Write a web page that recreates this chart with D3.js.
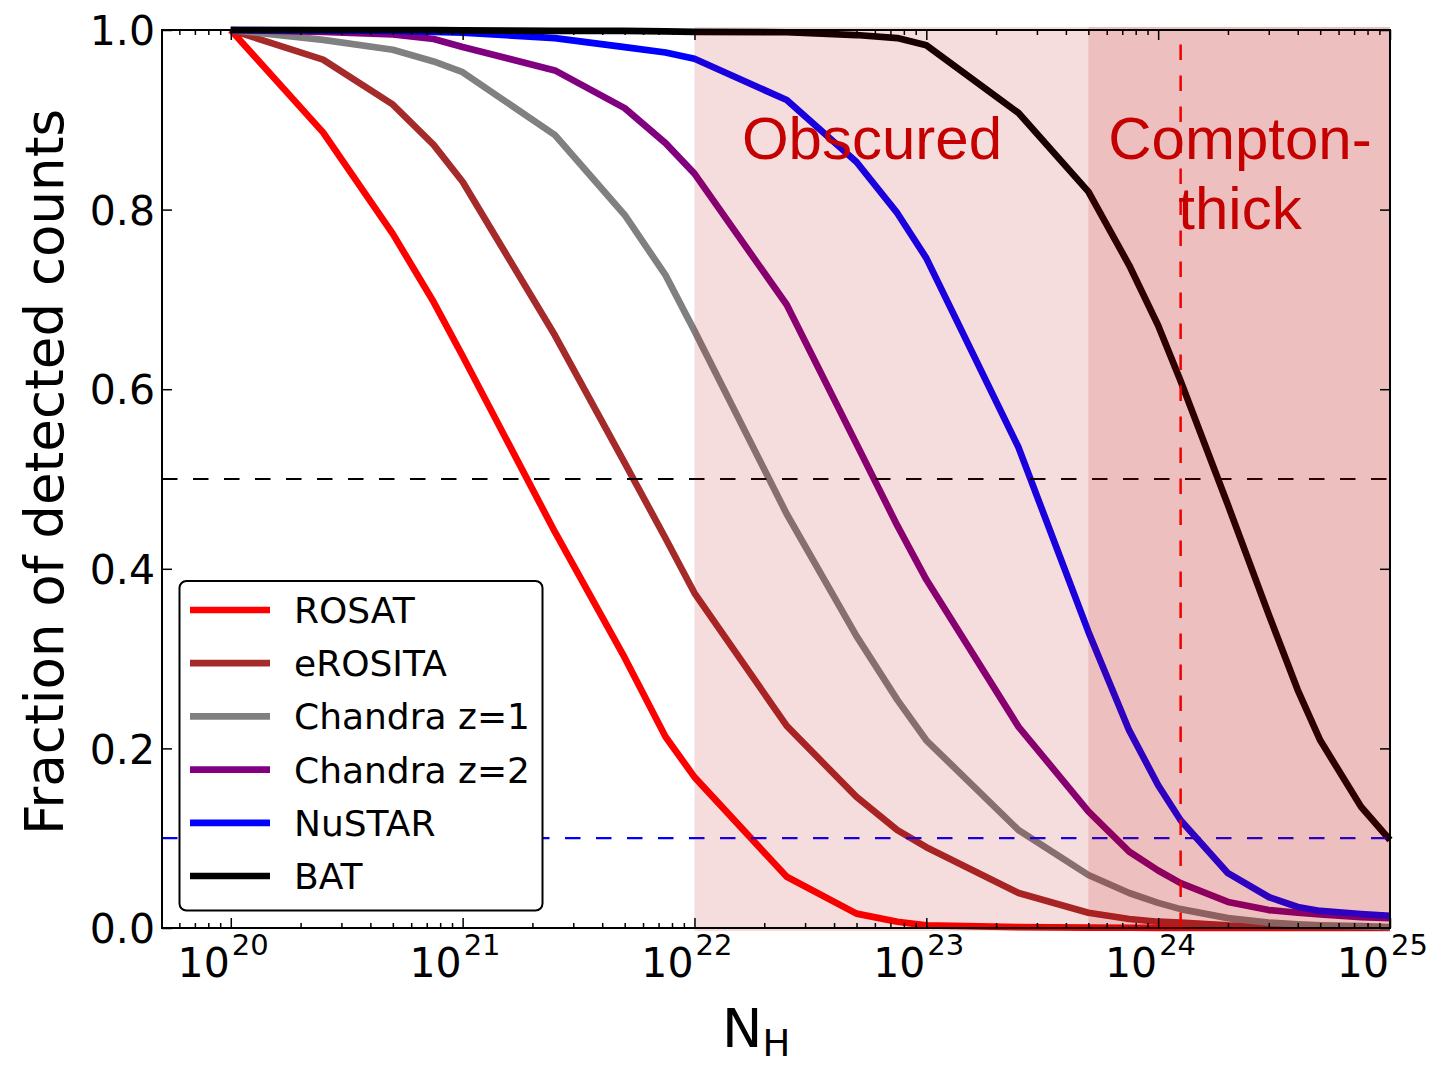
<!DOCTYPE html>
<html><head><meta charset="utf-8">
<script src="https://cdn.jsdelivr.net/npm/d3@7"></script>
<style>body{margin:0;background:#fff}</style>
</head><body><svg id="c" width="1435" height="1068"></svg>
<script>
// ---- data ----
const NH = [1e20, 2.5e20, 5e20, 7.5e20, 1e21, 2.5e21, 5e21, 7.5e21, 1e22, 2.5e22, 5e22, 7.5e22,
            1e23, 2.5e23, 5e23, 7.5e23, 1e24, 1.25e24, 2e24, 3e24, 4e24, 5e24, 7.5e24, 1e25];
const SERIES = ["ROSAT", "eROSITA", "Chandra z=1", "Chandra z=2", "NuSTAR", "BAT"];
const ROSAT    = [1.0, 0.886, 0.773, 0.697, 0.637, 0.441, 0.301, 0.213, 0.168, 0.057, 0.016, 0.007,
                  0.003, 0.001, 0.0005, 0.0003, 0.0002, 0.0001, 0, 0, 0, 0, 0, 0];
const EROSITA  = [1.0, 0.967, 0.917, 0.872, 0.831, 0.660, 0.518, 0.434, 0.373, 0.225, 0.146, 0.109,
                  0.090, 0.039, 0.017, 0.010, 0.007, 0.006, 0.003, 0.002, 0.001, 0.001, 0.0005, 0.0003];
const CHANDRA1 = [1.0, 0.989, 0.978, 0.965, 0.953, 0.883, 0.794, 0.727, 0.665, 0.461, 0.325, 0.254,
                  0.209, 0.109, 0.059, 0.039, 0.028, 0.021, 0.011, 0.006, 0.004, 0.003, 0.002, 0.001];
const CHANDRA2 = [1.0, 0.998, 0.995, 0.990, 0.981, 0.955, 0.913, 0.874, 0.840, 0.694, 0.539, 0.448,
                  0.388, 0.224, 0.130, 0.085, 0.064, 0.050, 0.029, 0.020, 0.017, 0.015, 0.012, 0.011];
const NUSTAR   = [1.0, 0.9995, 0.999, 0.998, 0.997, 0.991, 0.981, 0.975, 0.968, 0.922, 0.853, 0.796,
                  0.746, 0.535, 0.330, 0.220, 0.159, 0.120, 0.061, 0.0345, 0.0234, 0.019, 0.0156, 0.0134];
const BAT      = [1.0, 1.0, 1.0, 1.0, 0.9995, 0.999, 0.999, 0.9985, 0.998, 0.9975, 0.9944, 0.991,
                  0.983, 0.9075, 0.820, 0.738, 0.671, 0.609, 0.471, 0.349, 0.265, 0.209, 0.135, 0.098];
const VALUES = [ROSAT, EROSITA, CHANDRA1, CHANDRA2, NUSTAR, BAT];
const Y_TICKS = [0, 0.2, 0.4, 0.6, 0.8, 1.0];
const X_TICK_EXP = [20, 21, 22, 23, 24, 25];
const X_DOMAIN = [5.05e19, 1e25];
const OBSCURED_MIN = 1e22, CT_MIN = 5e23, CT_LINE = 1.25e24;
const HLINE_VALUES = [0.5, 0.1];

// ---- styles ----
const COLORS = ["#ff0000", "#a52a2a", "#808080", "#800080", "#0000ff", "#000000"];
const HLINE_COLORS = ["#000000", "#0000ff"];
const L = 162, R = 1390, T = 30, B = 928;

const svg = d3.select("#c");
const x = d3.scaleLog().domain(X_DOMAIN).range([L, R]);
const y = d3.scaleLinear().domain([0, 1]).range([B, T]);

const line = d3.line().x(d => x(d[0])).y(d => y(d[1]));
const gLines = svg.append("g");
VALUES.forEach((vals, i) => {
  gLines.append("path")
    .attr("d", line(NH.map((n, j) => [n, vals[j]])))
    .attr("fill", "none").attr("stroke", COLORS[i])
    .attr("stroke-width", 6.7).attr("stroke-linejoin", "round");
});

// dashed reference lines
HLINE_VALUES.forEach((v, i) => {
  svg.append("line").attr("x1", L).attr("x2", R).attr("y1", y(v)).attr("y2", y(v))
    .attr("stroke", HLINE_COLORS[i]).attr("stroke-width", 2.2)
    .attr("stroke-dasharray", "15.5,15.5");
});
svg.append("line").attr("x1", x(CT_LINE)).attr("x2", x(CT_LINE))
  .attr("y1", y(0)).attr("y2", y(1))
  .attr("stroke", "#ff0000").attr("stroke-width", 2.5)
  .attr("stroke-dasharray", "15.5,15.5");

// shaded regions
[OBSCURED_MIN, CT_MIN].forEach(v => {
  svg.append("rect").attr("x", x(v)).attr("y", T - 3)
    .attr("width", R - x(v)).attr("height", B - T + 6)
    .attr("fill", "#bb0000").attr("fill-opacity", 0.133);
});

// annotations
const ann = svg.append("g").attr("font-family", "'Liberation Sans', Arial, sans-serif")
  .attr("font-size", 60).attr("fill", "#c40000").attr("text-anchor", "middle");
ann.append("text").attr("x", 872).attr("y", 159).text("Obscured");
ann.append("text").attr("x", 1240).attr("y", 159).text("Compton-");
ann.append("text").attr("x", 1240).attr("y", 229).text("thick");

// axes
const minors = x.ticks().filter(v => Math.abs(Math.log10(v) - Math.round(Math.log10(v))) > 1e-6);
const majors = X_TICK_EXP.map(e => Math.pow(10, e));
function styleAxis(g) {
  g.select(".domain").remove();
  g.selectAll(".tick line").attr("stroke", "#000").attr("stroke-width", 1.5);
}
svg.append("g").attr("transform", `translate(0,${B})`)
  .call(d3.axisBottom(x).tickValues(majors).tickSize(-10).tickFormat("")).call(styleAxis);
svg.append("g").attr("transform", `translate(0,${B})`)
  .call(d3.axisBottom(x).tickValues(minors).tickSize(-5).tickFormat("")).call(styleAxis);
svg.append("g").attr("transform", `translate(0,${T})`)
  .call(d3.axisTop(x).tickValues(majors).tickSize(-10).tickFormat("")).call(styleAxis);
svg.append("g").attr("transform", `translate(0,${T})`)
  .call(d3.axisTop(x).tickValues(minors).tickSize(-5).tickFormat("")).call(styleAxis);

const yl = svg.append("g").attr("transform", `translate(${L},0)`)
  .call(d3.axisLeft(y).tickValues(Y_TICKS).tickSize(-10).tickPadding(7).tickFormat(d3.format(".1f")))
  .call(styleAxis);
yl.selectAll("text").attr("font-family", "'DejaVu Sans', sans-serif").attr("font-size", 41)
  .attr("fill", "#000").attr("dy", "0.36em");
svg.append("g").attr("transform", `translate(${R},0)`)
  .call(d3.axisRight(y).tickValues(Y_TICKS).tickSize(-10).tickFormat("")).call(styleAxis);

// x tick labels 10^n
const xl = svg.append("g").attr("font-family", "'DejaVu Sans', sans-serif").attr("fill", "#000");
X_TICK_EXP.forEach(e => {
  const px = x(Math.pow(10, e));
  xl.append("text").attr("x", px - 1).attr("y", 977).attr("font-size", 41)
    .attr("text-anchor", "end").text("10");
  xl.append("text").attr("x", px + 1).attr("y", 955).attr("font-size", 29)
    .attr("text-anchor", "start").text(String(e));
});

// frame
svg.append("rect").attr("x", L).attr("y", T).attr("width", R - L).attr("height", B - T)
  .attr("fill", "none").attr("stroke", "#000").attr("stroke-width", 2);

// legend
const lg = svg.append("g");
lg.append("rect").attr("x", 179.5).attr("y", 581).attr("width", 363).attr("height", 329.5)
  .attr("rx", 7).attr("fill", "#fff").attr("stroke", "#000").attr("stroke-width", 2);
SERIES.forEach((s, i) => {
  const yy = 610 + i * 53.2;
  lg.append("line").attr("x1", 190).attr("x2", 270).attr("y1", yy).attr("y2", yy)
    .attr("stroke", COLORS[i]).attr("stroke-width", 6.7);
  lg.append("text").attr("x", 294).attr("y", yy + 13)
    .attr("font-family", "'DejaVu Sans', sans-serif").attr("font-size", 36)
    .attr("fill", "#000").text(s);
});

// axis titles
svg.append("text").attr("transform", "translate(63,472) rotate(-90)")
  .attr("text-anchor", "middle").attr("font-family", "'DejaVu Sans', sans-serif")
  .attr("font-size", 53).attr("fill", "#000").text("Fraction of detected counts");
const nh = svg.append("text").attr("x", 722).attr("y", 1047)
  .attr("font-family", "'DejaVu Sans', sans-serif").attr("font-size", 54).attr("fill", "#000");
nh.append("tspan").text("N");
nh.append("tspan").attr("font-size", 37).attr("dy", 9).text("H");
</script></body></html>
